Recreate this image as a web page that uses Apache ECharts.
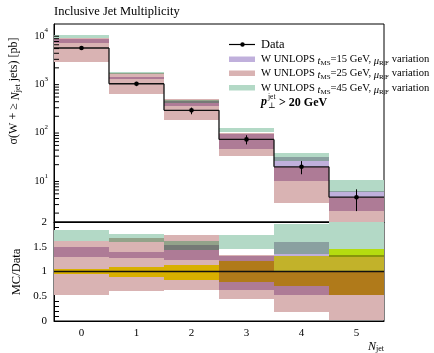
<!DOCTYPE html>
<html><head><meta charset="utf-8">
<script src="https://cdn.jsdelivr.net/npm/echarts@6/dist/echarts.min.js"></script>
<style>html,body{margin:0;padding:0;background:#fff}#c{width:434px;height:353px}</style>
</head><body><div id="c"></div>
<script>
// ---- data ----
const categories = ['0', '1', '2', '3', '4', '5'];
const dataVal = [5140, 940, 265, 66.5, 18.1, 4.26];
const dataLo  = [4880, 837, 220, 52.5, 12.7, 2.2];
const dataHi  = [5450, 1025, 302, 81.1, 23.7, 6.2];
const ms15Lo = [6630, 1194, 329, 41.2, 9.41, 2.22];
const ms15Hi = [7710, 1307, 405, 87.1, 28.8, 5.67];
const ms25Lo = [2673, 564, 167, 29.9, 3.26, 0.05];
const ms25Hi = [8275, 1579, 458, 88.4, 18.1, 4.26];
const ms45Lo = [8275, 1495, 382, 96.4, 24.4, 5.54];
const ms45Hi = [9458, 1654, 427, 115.7, 35.3, 9.67];
const mainMinorTicks = [2,3,4,5,6,7,8,9,20,30,40,50,60,70,80,90,200,300,400,500,600,700,800,900,2000,3000,4000,5000,6000,7000,8000,9000];
const ratioTickLabels = ['0', '0.5', '1', '1.5', '2'];

// ---- style ----
const SERIF = '"Liberation Serif", "DejaVu Serif", serif';
// colours of single bands and of their overlaps (L = t15, P = t25, G = t45, Y = data)
const COMBO = { L: '#c0b0dc', P: '#d9b3b3', G: '#b3d9c6', Y: '#ffff10',
  LP: '#ae7b96', GP: '#93a38a', GL: '#8aa0a0', GLP: '#767a76',
  PY: '#d8b000', LPY: '#b07a1a', LY: '#c2b22a', GY: '#b5dc10' };
function rgb(h) { return [1, 3, 5].map(k => parseInt(h.substr(k, 2), 16)); }
function comboColor(key) {
  if (COMBO[key]) return COMBO[key];
  let c = [255, 255, 255];
  for (const ch of key) { const p = rgb(COMBO[ch]); c = c.map((v, j) => v * p[j] / 255); }
  return 'rgb(' + c.map(Math.round).join(',') + ')';
}
const ratio = (arr) => arr.map((v, i) => v / dataVal[i]);

function bandSeries(bands, g) {
  return {
    type: 'custom', xAxisIndex: g, yAxisIndex: g, z: 2, silent: true,
    data: categories.map((c, i) => [i]),
    renderItem(params, api) {
      const i = api.value(0);
      const cs = params.coordSys;
      const w = api.size([1, 0])[0];
      const cx = api.coord([i, 1])[0];
      const bs = bands.map(b => [b.lo[i], b.hi[i], b.k]);
      const edges = Array.from(new Set(bs.flatMap(b => [b[0], b[1]]))).sort((a, b) => a - b);
      const clampY = y => Math.round(Math.min(Math.max(y, cs.y), cs.y + cs.height));
      const children = [];
      for (let j = 0; j < edges.length - 1; j++) {
        const a = edges[j], b = edges[j + 1];
        const key = bs.filter(x => x[0] <= a && x[1] >= b).map(x => x[2]).sort().join('');
        if (!key) continue;
        const ya = clampY(api.coord([i, a])[1]);
        const yb = clampY(api.coord([i, b])[1]);
        if (ya <= yb) continue;
        children.push({ type: 'rect', shape: { x: Math.round(cx - w / 2), y: yb, width: Math.round(w), height: ya - yb },
                        style: { fill: comboColor(key) } });
      }
      return { type: 'group', children };
    }
  };
}

function stepLine(vals, g) {
  return {
    type: 'custom', xAxisIndex: g, yAxisIndex: g, z: 5, silent: true,
    data: categories.map((c, i) => [i, vals[i], i > 0 ? vals[i - 1] : vals[i]]),
    renderItem(params, api) {
      const i = api.value(0);
      const p = api.coord([i, api.value(1)]);
      const pp = api.coord([i, api.value(2)]);
      const w = api.size([1, 0])[0];
      const x0 = p[0] - w / 2, x1 = p[0] + w / 2;
      return { type: 'group', children: [
        { type: 'line', shape: { x1: x0, y1: p[1], x2: x1, y2: p[1] }, style: { stroke: '#111', lineWidth: 1.3 } },
        { type: 'line', shape: { x1: x0, y1: pp[1], x2: x0, y2: p[1] }, style: { stroke: '#111', lineWidth: 1.3 } }
      ]};
    }
  };
}

const mainBands = [
  { k: 'P', lo: ms25Lo, hi: ms25Hi },
  { k: 'L', lo: ms15Lo, hi: ms15Hi },
  { k: 'G', lo: ms45Lo, hi: ms45Hi }
];
const ratioBands = [
  { k: 'P', lo: ratio(ms25Lo), hi: ratio(ms25Hi) },
  { k: 'L', lo: ratio(ms15Lo), hi: ratio(ms15Hi) },
  { k: 'G', lo: ratio(ms45Lo), hi: ratio(ms45Hi) },
  { k: 'Y', lo: ratio(dataLo), hi: ratio(dataHi) }
];

const chart = echarts.init(document.getElementById('c'), null, { renderer: 'canvas' });
const axisCommon = { lineStyle: { color: '#000', width: 1 } };
const subRich = (fs) => ({
  i: { font: 'italic ' + fs + 'px ' + SERIF, lineHeight: fs + 4, verticalAlign: 'bottom' },
  s: { font: Math.round(fs * 0.65) + 'px ' + SERIF, lineHeight: fs + 4, verticalAlign: 'bottom' }
});
chart.setOption({
  animation: false,
  backgroundColor: '#ffffff',
  grid: [
    { left: 54, top: 24, width: 330, height: 198, show: true, borderColor: '#000', borderWidth: 1, backgroundColor: 'transparent' },
    { left: 54, top: 222, width: 330, height: 99, show: true, borderColor: '#000', borderWidth: 1, backgroundColor: 'transparent' }
  ],
  xAxis: [
    { type: 'category', gridIndex: 0, data: categories, boundaryGap: true,
      axisLine: axisCommon, axisTick: { inside: true, alignWithLabel: true, length: 10, lineStyle: { color: '#000' } },
      axisLabel: { show: false }, splitLine: { show: false } },
    { type: 'category', gridIndex: 1, data: categories, boundaryGap: true,
      axisLine: axisCommon, axisTick: { inside: true, alignWithLabel: true, length: 10, lineStyle: { color: '#000' } },
      axisLabel: { show: true, color: '#000', fontFamily: SERIF, fontSize: 11, margin: 7 }, splitLine: { show: false } }
  ],
  yAxis: [
    { type: 'log', gridIndex: 0, logBase: 10, min: 1.31, max: 16100,
      axisLine: { show: true, lineStyle: { color: '#000' } },
      axisTick: { inside: true, length: 10, lineStyle: { color: '#000' } },
      splitLine: { show: false },
      axisLabel: { color: '#000', fontFamily: SERIF, fontSize: 10, margin: 6, showMinLabel: false, showMaxLabel: false,
        formatter: v => '{b|10}{s|' + Math.round(Math.log10(v)) + '}',
        rich: { b: { fontFamily: SERIF, fontSize: 10, lineHeight: 14, verticalAlign: 'bottom', color: '#000' },
                s: { fontFamily: SERIF, fontSize: 7, lineHeight: 14, verticalAlign: 'top', color: '#000' } } } },
    { type: 'value', gridIndex: 1, min: 0, max: 2, interval: 0.5,
      axisLine: { show: true, lineStyle: { color: '#000' } },
      axisTick: { inside: true, length: 9, lineStyle: { color: '#000' } },
      minorTick: { show: true, splitNumber: 5, length: 5, lineStyle: { color: '#000' } },
      splitLine: { show: false },
      axisLabel: { color: '#000', fontFamily: SERIF, fontSize: 11, margin: 7,
        formatter: v => ratioTickLabels[Math.round(v * 2)] } }
  ],
  series: [
    bandSeries(mainBands, 0),
    stepLine(dataVal, 0),
    { type: 'custom', xAxisIndex: 0, yAxisIndex: 0, z: 6, silent: true,
      data: categories.map((c, i) => [i, dataVal[i], dataLo[i], dataHi[i]]),
      renderItem(params, api) {
        const i = api.value(0);
        const p = api.coord([i, api.value(1)]);
        const lo = api.coord([i, api.value(2)]);
        const hi = api.coord([i, api.value(3)]);
        return { type: 'group', children: [
          { type: 'line', shape: { x1: p[0], y1: lo[1], x2: p[0], y2: hi[1] }, style: { stroke: '#000', lineWidth: 1 } },
          { type: 'circle', shape: { cx: p[0], cy: p[1], r: 2.3 }, style: { fill: '#000' } }
        ]};
      } },
    { type: 'custom', xAxisIndex: 0, yAxisIndex: 0, z: 6, silent: true,
      data: mainMinorTicks.map(v => [0, v]),
      renderItem(params, api) {
        const y = api.coord([0, api.value(1)])[1];
        const x = params.coordSys.x;
        return { type: 'line', shape: { x1: x, y1: y, x2: x + 5, y2: y }, style: { stroke: '#000', lineWidth: 1 } };
      } },
    bandSeries(ratioBands, 1),
    stepLine(ratio(dataVal), 1)
  ],
  graphic: [
    { type: 'text', x: 54, y: 12, style: { text: 'Inclusive Jet Multiplicity', font: '12.5px ' + SERIF, fill: '#000', verticalAlign: 'middle' } },
    { type: 'text', x: 14, y: 91, rotation: Math.PI / 2,
      style: { text: 'σ(W + ≥ {i|N}{s|jet} jets) [pb]', font: '12px ' + SERIF, fill: '#000', align: 'center', verticalAlign: 'middle', rich: subRich(12) } },
    { type: 'text', x: 17, y: 272, rotation: Math.PI / 2,
      style: { text: 'MC/Data', font: '12.5px ' + SERIF, fill: '#000', align: 'center', verticalAlign: 'middle' } },
    { type: 'text', x: 384, y: 345, style: { text: '{i|N}{s|jet}', align: 'right', verticalAlign: 'middle', fill: '#000', rich: subRich(12) } },
    // legend
    { type: 'line', shape: { x1: 229, y1: 44.5, x2: 255, y2: 44.5 }, style: { stroke: '#000', lineWidth: 1.2 } },
    { type: 'circle', shape: { cx: 242.5, cy: 44.5, r: 2.2 }, style: { fill: '#000' } },
    { type: 'text', x: 261, y: 45, style: { text: 'Data', font: '12.5px ' + SERIF, fill: '#000', verticalAlign: 'middle' } },
    { type: 'rect', shape: { x: 229, y: 56.5, width: 26, height: 5.5 }, style: { fill: COMBO.L } },
    { type: 'rect', shape: { x: 229, y: 70.5, width: 26, height: 5.5 }, style: { fill: COMBO.P } },
    { type: 'rect', shape: { x: 229, y: 85, width: 26, height: 5.5 }, style: { fill: COMBO.G } },
    ...['15', '25', '45'].map((t, k) => ({ type: 'text', x: 261, y: [59.5, 73.5, 88][k],
      style: { text: 'W UNLOPS {i|t}{s|MS}=' + t + ' GeV, {i|μ}{s|R|F} variation', font: '10.6px ' + SERIF, fill: '#000', verticalAlign: 'middle',
        rich: subRich(10.6) } })),
    { type: 'text', x: 261, y: 102, style: { text: 'p', font: 'italic bold 12px ' + SERIF, fill: '#000', verticalAlign: 'middle' } },
    { type: 'text', x: 268, y: 97, style: { text: 'jet', font: '7.5px ' + SERIF, fill: '#000', verticalAlign: 'middle' } },
    { type: 'text', x: 268, y: 106, style: { text: '⊥', font: '8px ' + SERIF, fill: '#000', verticalAlign: 'middle' } },
    { type: 'text', x: 279, y: 102.5, style: { text: '> 20 GeV', font: 'bold 12px ' + SERIF, fill: '#000', verticalAlign: 'middle' } }
  ]
});
</script></body></html>
